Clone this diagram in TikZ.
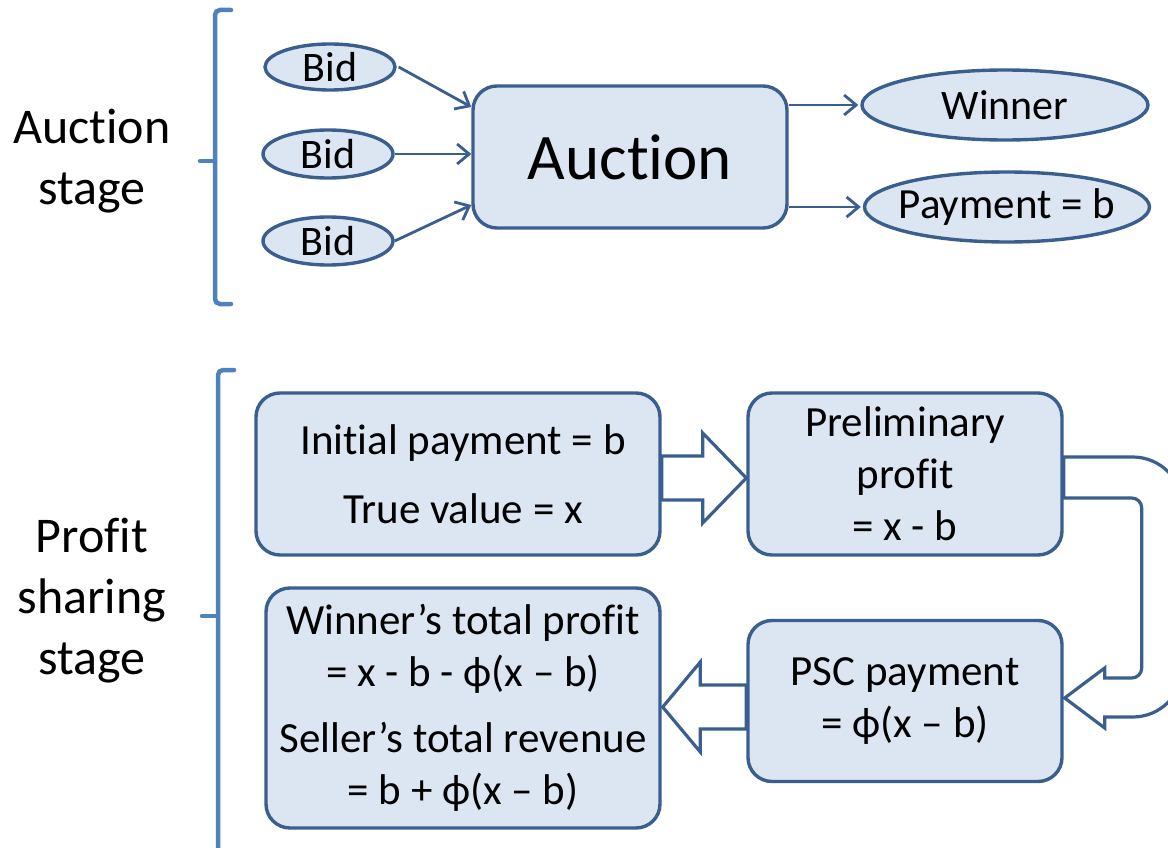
\documentclass[tikz,border=0pt]{standalone}
\usepackage{fontspec}
\setmainfont{Carlito}[Ligatures={NoCommon,NoContextual}]
\usetikzlibrary{arrows.meta,shapes.geometric,calc}
\definecolor{boxfill}{HTML}{DCE6F2}
\definecolor{boxline}{HTML}{3A5F8E}
\definecolor{bracecol}{HTML}{4F81BD}
\tikzset{
  box/.style={draw=boxline, fill=boxfill, line width=3.4pt, rounded corners=24pt,
    align=center, inner sep=0pt, font=\fontsize{43}{52}\selectfont},
  oval/.style={draw=boxline, fill=boxfill, line width=3.4pt, ellipse, inner sep=0pt},
  thin arrow/.style={draw=boxline, line width=2.8pt,
    -{Straight Barb[length=12pt,width=20pt]}},
  block arrow/.style={draw=boxline, fill=white, line width=3.2pt, line join=miter},
  bracket/.style={draw=bracecol, line width=4.5pt, rounded corners=5pt, line cap=round},
  stagelabel/.style={align=center, font=\fontsize{50}{61}\selectfont, inner sep=0pt}
}
\begin{document}
\begin{tikzpicture}[x=1pt,y=-1pt]
\useasboundingbox (0,0) rectangle (1168,848);
\clip (0,0) rectangle (1168,848);

% ---------- auction stage ----------
\node[stagelabel] (lab1) at (92,161) {Auction\\stage};
\draw[bracket] (231,10) -- (215,10) -- (215,304) -- (231,304);
\draw[bracket, rounded corners=0pt] (215,161) -- (200,161);

\node[box, minimum width=314pt, minimum height=142pt, font=\fontsize{65}{78}\selectfont]
  (auction) at (630,157) {Auction};

\node[oval, minimum width=130pt, minimum height=46pt,
  label={[font=\fontsize{42}{42}\selectfont]center:Bid}] (bid1) at (330,67) {};
\node[oval, minimum width=130pt, minimum height=48pt,
  label={[font=\fontsize{42}{42}\selectfont]center:Bid}] (bid2) at (328,154) {};
\node[oval, minimum width=130pt, minimum height=48pt,
  label={[font=\fontsize{42}{42}\selectfont]center:Bid}] (bid3) at (328,241) {};

\node[oval, minimum width=286pt, minimum height=70pt,
  label={[font=\fontsize{42}{42}\selectfont]center:Winner}] (winner) at (1005,105) {};
\node[oval, minimum width=285pt, minimum height=70pt,
  label={[font=\fontsize{43}{43}\selectfont]center:Payment = b}] (payment) at (1007,207) {};

\draw[thin arrow] ([xshift=2pt]bid1.east) -- ([yshift=50pt]auction.west);
\draw[thin arrow] (bid2.east) -- (auction.west |- bid2.east);
\draw[thin arrow] (bid3.east) -- ([yshift=-48pt]auction.west);
\draw[thin arrow] (auction.east |- winner.west) -- ([xshift=-2pt]winner.west);
\draw[thin arrow] (auction.east |- payment.west) -- ([xshift=-2pt]payment.west);

% ---------- profit sharing stage ----------
\node[stagelabel] (lab2) at (92,601) {Profit\\sharing\\stage};
\draw[bracket] (234,370) -- (218,370) -- (218,870);
\draw[bracket, rounded corners=0pt] (218,616) -- (202,616);

\node[box, minimum width=404pt, minimum height=162pt] (A) at (458,474)
  {\hspace*{10pt}Initial payment = b\\[17pt]\hspace*{10pt}True value = x};
\node[box, minimum width=314pt, minimum height=162pt] (B) at (905,474)
  {Preliminary\\profit\\= x - b};
\node[box, minimum width=314pt, minimum height=161pt] (C) at (905,701)
  {PSC payment\\= ϕ(x – b)};
\node[box, minimum width=394pt, minimum height=240pt] (D) at (463,708)
  {Winner’s total profit\\= x - b - ϕ(x – b)\\[14pt]Seller’s total revenue\\= b + ϕ(x – b)};

% block arrow from A to B
\filldraw[block arrow]
  ($(A.east)+(0,-18)$) -- ($(A.east)+(41,-18)$) -- ($(A.east)+(41,-41)$)
  -- ($(B.west)+(0,4)$) -- ($(A.east)+(41,49)$) -- ($(A.east)+(41,26)$)
  -- ($(A.east)+(0,26)$) -- cycle;

% block arrow from C to D
\filldraw[block arrow]
  ($(C.west)+(0,-16)$) -- ($(C.west)+(-46,-16)$) -- ($(C.west)+(-46,-39)$)
  -- ($(D.east)+(1,-1)$) -- ($(C.west)+(-46,51)$) -- ($(C.west)+(-46,28)$)
  -- ($(C.west)+(0,28)$) -- cycle;

% U-turn block arrow from B down to C
\filldraw[block arrow]
  ($(B.east)+(0,-17)$) -- ($(B.east)+(69,-17)$)
  arc[start angle=90, end angle=0, radius=50pt]
  -- ($(C.east)+(119,-34)$)
  arc[start angle=0, end angle=-90, radius=50pt]
  -- ($(C.east)+(41,16)$) -- ($(C.east)+(41,27)$)
  -- ($(C.east)+(1,-3)$)
  -- ($(C.east)+(41,-33)$) -- ($(C.east)+(41,-23)$)
  -- ($(C.east)+(68,-23)$)
  arc[start angle=-90, end angle=0, radius=10pt]
  -- ($(B.east)+(78,34)$)
  arc[start angle=0, end angle=90, radius=10pt]
  -- ($(B.east)+(0,24)$) -- cycle;
\end{tikzpicture}
\end{document}
